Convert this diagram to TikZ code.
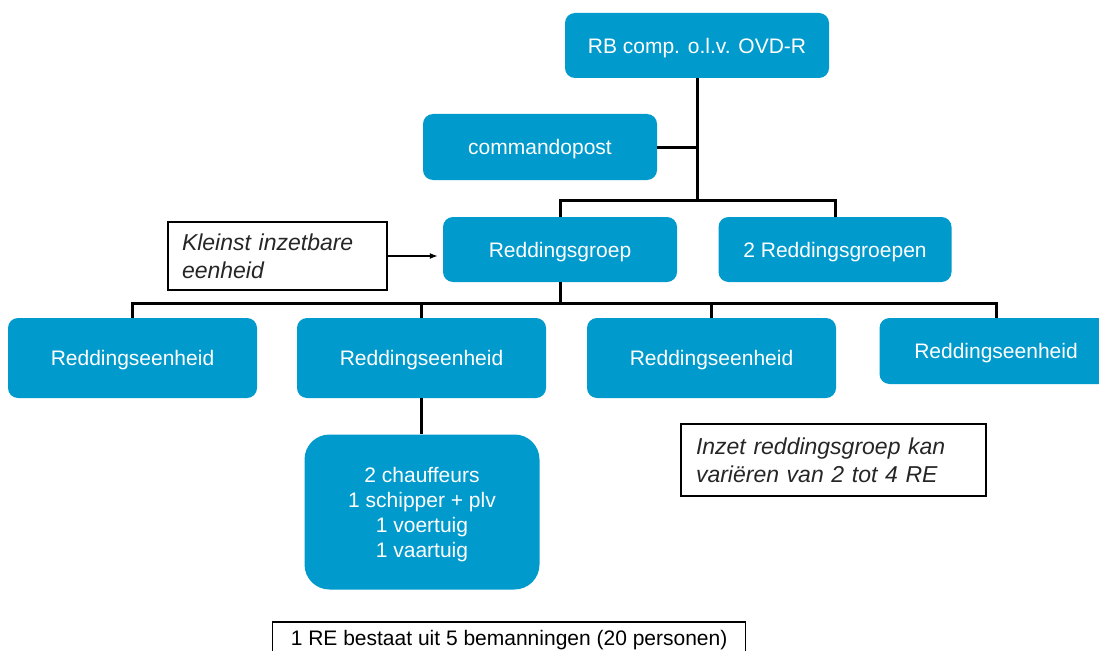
\documentclass[tikz,border=0pt]{standalone}
\usepackage{fontspec}
\usetikzlibrary{arrows.meta}
\setmainfont{Liberation Sans}
\definecolor{rbblue}{RGB}{0,154,204}
\begin{document}
\begin{tikzpicture}[x=1pt,y=-1pt,
  bluebox/.style={fill=rbblue,rounded corners=10pt,text=white,inner sep=0pt,
    font=\fontsize{21}{25}\selectfont,align=center,text depth=0pt},
  notebox/.style={draw=black,line width=1.2pt,inner sep=0pt,
    font=\itshape\fontsize{23}{28}\selectfont,align=left,text=black!85},
  conn/.style={draw=black,line width=3pt},
  thin/.style={draw=black,line width=1.4pt}]
\useasboundingbox (0,0) rectangle (1099,650);
\node[bluebox,minimum width=264pt,minimum height=65pt] (top) at (697,45.5) {RB comp. o.l.v. OVD-R};
\node[bluebox,minimum width=234pt,minimum height=66pt] (cp) at (540,147) {commandopost};
\node[bluebox,minimum width=234pt,minimum height=65pt] (rg) at (560,249.5) {Reddingsgroep};
\node[bluebox,minimum width=233pt,minimum height=65pt] (rg2) at (835,249.5) {2 Reddingsgroepen};
\node[bluebox,minimum width=249pt,minimum height=80pt] (re1) at (132.5,358) {Reddingseenheid};
\node[bluebox,minimum width=249pt,minimum height=80pt] (re2) at (421.5,358) {Reddingseenheid};
\node[bluebox,minimum width=249pt,minimum height=80pt] (re3) at (711.5,358) {Reddingseenheid};
\node[bluebox,minimum width=233pt,minimum height=66pt] (re4) at (996,351) {Reddingseenheid};
\node[bluebox,rounded corners=25pt,minimum width=235pt,minimum height=155pt] (crew) at (422,512)
  {2 chauffeurs\\1 schipper + plv\\1 voertuig\\1 vaartuig};
\node[notebox,minimum width=219pt,minimum height=68pt,text width=191pt] (kl) at (277.5,256)
  {Kleinst inzetbare\\eenheid};
\node[notebox,minimum width=305pt,minimum height=72pt,text width=275pt] (inz) at (833.5,460)
  {Inzet reddingsgroep kan\\variëren van 2 tot 4 RE};
\node[draw=black,line width=1.2pt,anchor=west,inner xsep=15pt,inner ysep=0pt,
  minimum width=473pt,minimum height=36pt,font=\fontsize{21}{25}\selectfont] (re) at (272,640)
  {1 RE bestaat uit 5 bemanningen (20 personen)};
\coordinate (j1) at (697,200);
\coordinate (j2) at (560,303);
\draw[conn] (top.south) -- (j1);
\draw[conn] (cp.east) -- (cp.east -| j1);
\draw[conn] (rg.north) |- (j1) -| (rg2.north);
\draw[conn] (rg.south) -- (j2);
\draw[conn] (re1.north) |- (j2) -| (re4.north);
\draw[conn] (re2.north) -- (re2.north |- j2);
\draw[conn] (re3.north) -- (re3.north |- j2);
\draw[conn] (re2.south) -- (re2.south |- crew.north);
\draw[thin,-{Latex[length=8pt,width=6pt]},shorten >=5pt] (kl.east) -- (kl.east -| rg.west);
\end{tikzpicture}
\end{document}
